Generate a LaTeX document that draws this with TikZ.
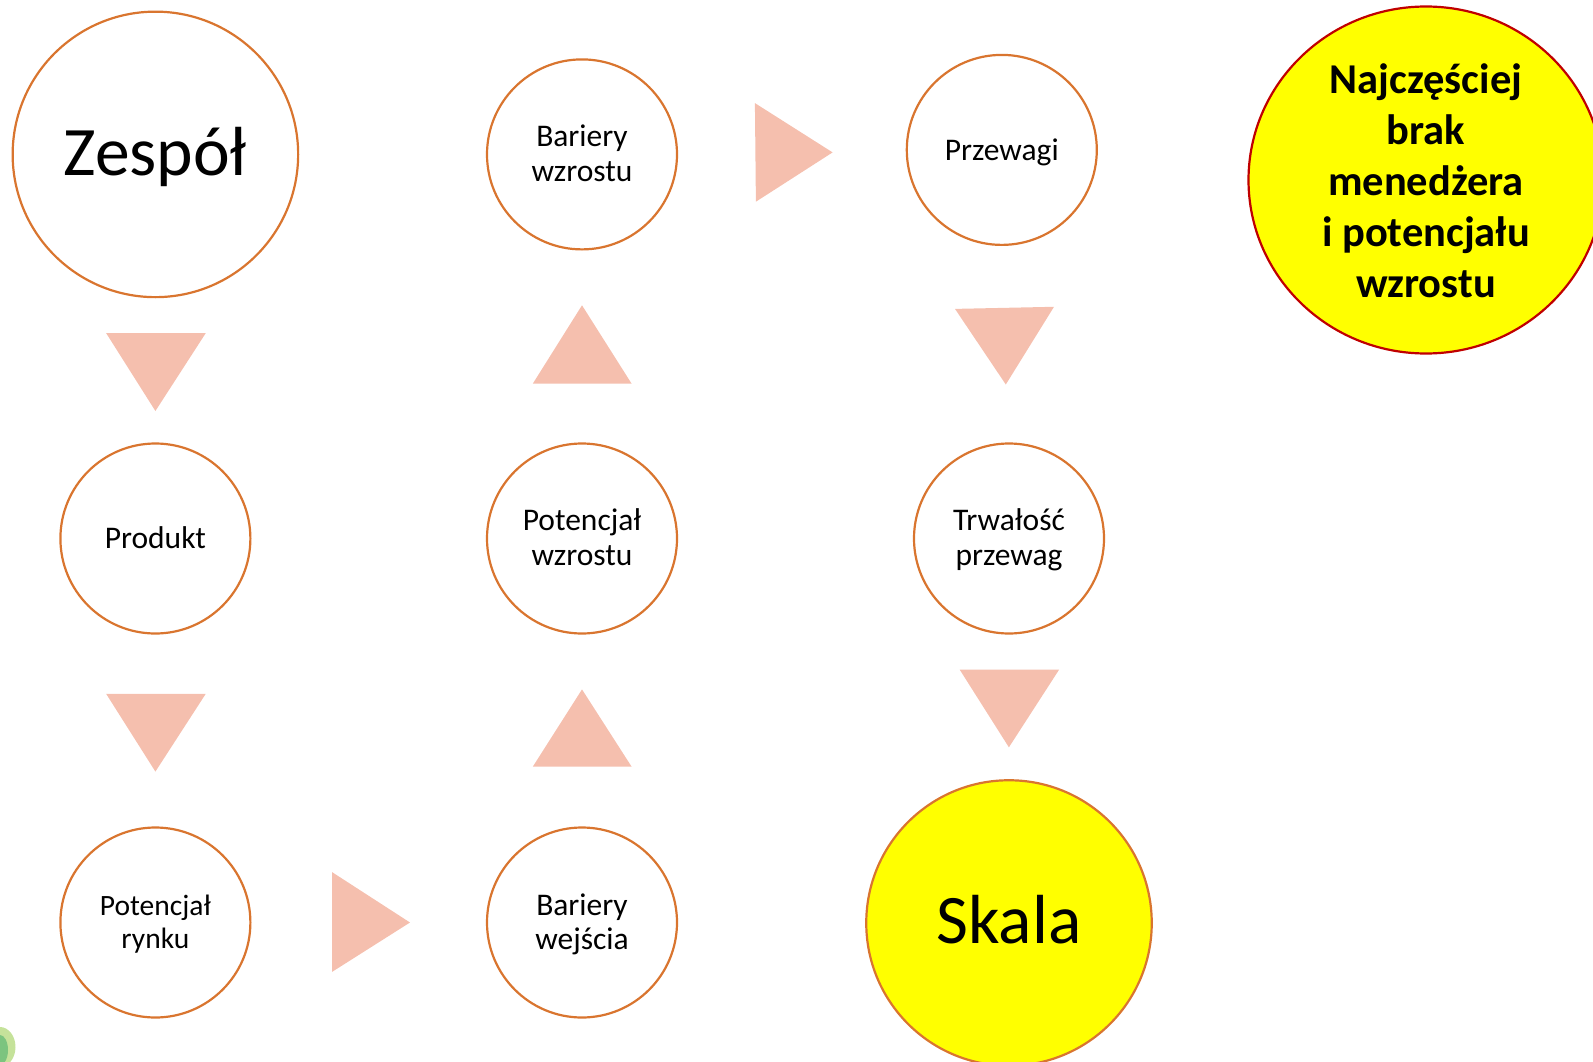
\documentclass[tikz,border=0pt]{standalone}
\usepackage{fontspec}
\setmainfont{Carlito}
\definecolor{ringor}{HTML}{D9752F}
\definecolor{trifill}{HTML}{F5BFAE}
\definecolor{ringred}{HTML}{C00000}
\definecolor{hl}{HTML}{FFFF00}
\definecolor{blobA}{HTML}{C5E29A}
\definecolor{blobB}{HTML}{7CC47F}
\usetikzlibrary{shapes.geometric}
\newcommand{\nudge}[2]{\raisebox{#1}[\height][\depth]{\begin{tabular}{@{}c@{}}#2\end{tabular}}}
\newcommand{\flatnudge}[2]{\raisebox{#1}[0pt][0pt]{\begin{tabular}{@{}c@{}}#2\end{tabular}}}
\tikzset{
  ringbase/.style={circle,draw=ringor,line width=2.2pt,inner sep=0pt,align=center,text=black},
  smallring/.style={ringbase,minimum size=190pt,font=\fontsize{31.5}{34.5}\selectfont},
  tightring/.style={ringbase,minimum size=190pt,font=\fontsize{29.5}{32.5}\selectfont},
  bigring/.style={ringbase,minimum size=285.5pt,font=\fontsize{69.5}{72}\selectfont},
  callout/.style={ellipse,draw=ringred,fill=hl,line width=2.2pt,minimum width=355pt,minimum height=347pt,inner sep=0pt,align=center,font=\fontsize{42.5}{51}\selectfont\bfseries},
  tri/.style={fill=trifill,draw=none}
}
\begin{document}
\begin{tikzpicture}[x=1pt,y=-1pt]
\useasboundingbox (0,0) rectangle (1593,1062);
\clip (0,0) rectangle (1593,1062);
% small green mark at the lower-left corner
\fill[blobA] (0,1047) ellipse [x radius=15.5,y radius=20];
\fill[blobB] (0,1050) ellipse [x radius=8,y radius=15];
% circles
\node[bigring] (zespol) at (155.4,154.4) {\nudge{-7pt}{Zespół}};
\node[smallring] (produkt) at (155.4,538.5) {\nudge{-3pt}{Produkt}};
\node[tightring] (rynek) at (155.4,922.5) {\nudge{-3pt}{Potencjał\\rynku}};
\node[smallring] (wejscie) at (582,922.5) {\nudge{-3pt}{Bariery\\wejścia}};
\node[smallring] (potencjal) at (582,538.5) {\nudge{-2.5pt}{Potencjał\\wzrostu}};
\node[smallring] (bariery) at (582,154.4) {\nudge{-2.5pt}{Bariery\\wzrostu}};
\node[smallring] (przewagi) at (1001.8,149.9) {\nudge{-4pt}{Przewagi}};
\node[smallring] (trwalosc) at (1009,538.5) {\nudge{-2.5pt}{Trwałość\\przewag}};
\node[bigring,fill=hl] (skala) at (1009,923) {\nudge{-6pt}{Skala}};
\node[callout] (note) at (1426,180) {\flatnudge{-12pt}{Najczęściej\\brak\\menedżera\\i potencjału\\wzrostu}};
% triangles
\fill[tri] (106.2,333.2) -- (205.7,333.2) -- (155.4,411) -- cycle;
\fill[tri] (106.2,693.9) -- (205.7,693.9) -- (155.4,771.6) -- cycle;
\fill[tri] (332.2,872.2) -- (410,922.5) -- (332.2,971.8) -- cycle;
\fill[tri] (532.9,766.5) -- (631.5,766.5) -- (582,689.4) -- cycle;
\fill[tri] (532.9,383.5) -- (631.5,383.5) -- (582,305.3) -- cycle;
\fill[tri] (754.9,103.1) -- (832.6,152.4) -- (755.9,201.7) -- cycle;
\fill[tri] (955,308.9) -- (1054,306.8) -- (1005.8,384.5) -- cycle;
\fill[tri] (959.6,669.5) -- (1059.2,669.5) -- (1008.9,747.3) -- cycle;
\end{tikzpicture}
\end{document}
